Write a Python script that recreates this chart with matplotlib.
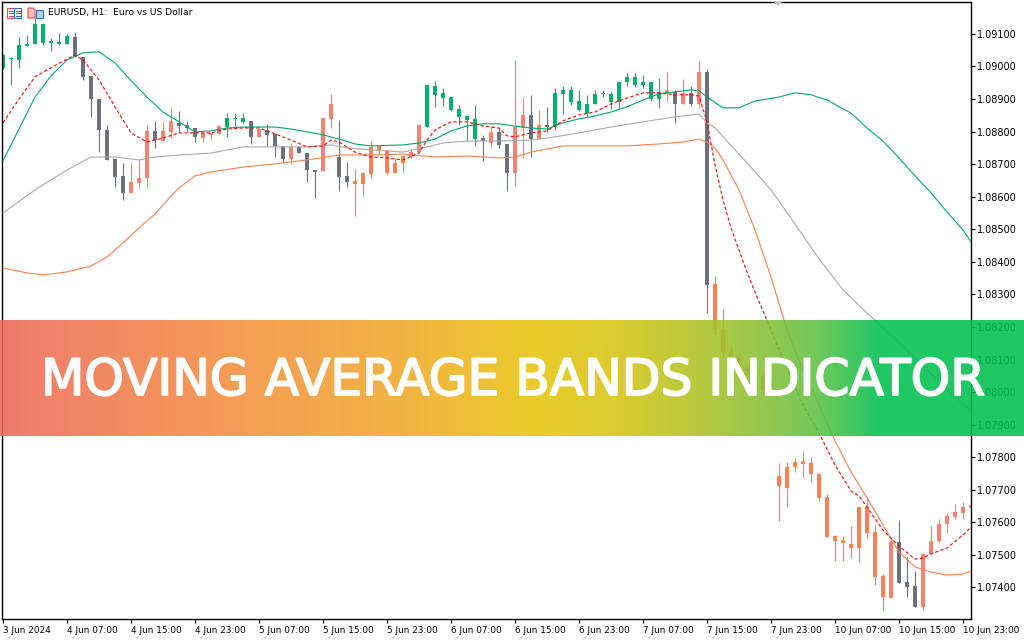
import numpy as np
import matplotlib
matplotlib.use("Agg")
import matplotlib.pyplot as plt
import matplotlib.patheffects as pe
from matplotlib.colors import LinearSegmentedColormap
from matplotlib.patches import Rectangle, Polygon

plt.rcParams['font.family'] = ['DejaVu Sans']

# EURUSD H1 candles, 3 Jun 2024 23:00 -> 11 Jun 00:00 (one entry per bar)
opens = [1.08996, 1.09023, 1.09020, 1.09063, 1.09069, 1.09131, 1.09072, 1.09069, 1.09069, 1.09091,
         1.09029, 1.08971, 1.08900, 1.08805, 1.08716, 1.08664, 1.08612, 1.08642, 1.08658, 1.08802,
         1.08771, 1.08799, 1.08827, 1.08820, 1.08811, 1.08780, 1.08790, 1.08793, 1.08814, 1.08839,
         1.08830, 1.08833, 1.08784, 1.08805, 1.08793, 1.08756, 1.08716, 1.08753, 1.08734, 1.08682,
         1.08679, 1.08839, 1.08722, 1.08664, 1.08648, 1.08639, 1.08670, 1.08756, 1.08744, 1.08673,
         1.08704, 1.08722, 1.08737, 1.08814, 1.08913, 1.08903, 1.08906, 1.08870, 1.08848, 1.08777,
         1.08780, 1.08765, 1.08799, 1.08762, 1.08673, 1.08811, 1.08851, 1.08777, 1.08820, 1.08814,
         1.08916, 1.08928, 1.08894, 1.08857, 1.08885, 1.08916, 1.08891, 1.08891, 1.08953, 1.08968,
         1.08943, 1.08953, 1.08900, 1.08919, 1.08922, 1.08885, 1.08919, 1.08885, 1.08983, 1.08332,
         1.08194, 1.08123, 1.08105, 1.08074, 1.08062, 1.08049, 1.08031, 1.07742, 1.07705, 1.07770,
         1.07779, 1.07782, 1.07748, 1.07678, 1.07558, 1.07546, 1.07533, 1.07521, 1.07647, 1.07570,
         1.07435, 1.07367, 1.07539, 1.07417, 1.07404, 1.07340, 1.07503, 1.07543, 1.07595, 1.07616,
         1.07628, 1.07644]
highs = [1.09038, 1.09029, 1.09091, 1.09097, 1.09149, 1.09134, 1.09088, 1.09103, 1.09100, 1.09106,
         1.09029, 1.08971, 1.08900, 1.08820, 1.08716, 1.08704, 1.08704, 1.08716, 1.08820, 1.08833,
         1.08833, 1.08876, 1.08863, 1.08833, 1.08811, 1.08799, 1.08799, 1.08820, 1.08857, 1.08857,
         1.08857, 1.08833, 1.08808, 1.08824, 1.08793, 1.08756, 1.08765, 1.08753, 1.08734, 1.08682,
         1.08842, 1.08916, 1.08836, 1.08707, 1.08685, 1.08676, 1.08771, 1.08756, 1.08744, 1.08719,
         1.08725, 1.08747, 1.08824, 1.08943, 1.08956, 1.08934, 1.08906, 1.08882, 1.08848, 1.08882,
         1.08790, 1.08817, 1.08811, 1.08762, 1.09020, 1.08906, 1.08913, 1.08867, 1.08876, 1.08934,
         1.08940, 1.08940, 1.08928, 1.08913, 1.08928, 1.08928, 1.08922, 1.08953, 1.08980, 1.08980,
         1.08974, 1.08953, 1.08965, 1.08983, 1.08928, 1.08962, 1.08940, 1.09017, 1.08992, 1.08357,
         1.08255, 1.08145, 1.08123, 1.08083, 1.08068, 1.08062, 1.08043, 1.07782, 1.07785, 1.07797,
         1.07819, 1.07801, 1.07751, 1.07687, 1.07561, 1.07558, 1.07589, 1.07647, 1.07681, 1.07592,
         1.07441, 1.07549, 1.07607, 1.07493, 1.07450, 1.07503, 1.07589, 1.07610, 1.07628, 1.07656,
         1.07662, 1.07668]
lows = [1.08992, 1.08943, 1.08996, 1.09063, 1.09069, 1.09066, 1.09048, 1.09066, 1.09069, 1.09029,
        1.08959, 1.08845, 1.08737, 1.08713, 1.08630, 1.08590, 1.08612, 1.08627, 1.08627, 1.08750,
        1.08771, 1.08780, 1.08799, 1.08799, 1.08768, 1.08768, 1.08774, 1.08793, 1.08784, 1.08811,
        1.08827, 1.08762, 1.08784, 1.08756, 1.08722, 1.08704, 1.08701, 1.08734, 1.08645, 1.08596,
        1.08679, 1.08811, 1.08618, 1.08630, 1.08541, 1.08602, 1.08658, 1.08728, 1.08667, 1.08673,
        1.08676, 1.08719, 1.08737, 1.08814, 1.08876, 1.08879, 1.08863, 1.08820, 1.08771, 1.08756,
        1.08710, 1.08750, 1.08750, 1.08618, 1.08633, 1.08719, 1.08722, 1.08777, 1.08799, 1.08805,
        1.08854, 1.08882, 1.08863, 1.08845, 1.08885, 1.08906, 1.08870, 1.08873, 1.08940, 1.08937,
        1.08934, 1.08894, 1.08873, 1.08891, 1.08827, 1.08885, 1.08879, 1.08873, 1.08243, 1.08175,
        1.08105, 1.08077, 1.08037, 1.08031, 1.08006, 1.07994, 1.08000, 1.07604, 1.07647, 1.07755,
        1.07739, 1.07724, 1.07665, 1.07555, 1.07481, 1.07481, 1.07490, 1.07478, 1.07552, 1.07407,
        1.07327, 1.07367, 1.07413, 1.07371, 1.07340, 1.07330, 1.07503, 1.07536, 1.07567, 1.07610,
        1.07610, 1.07638]
closes = [1.09035, 1.09026, 1.09066, 1.09069, 1.09131, 1.09072, 1.09079, 1.09075, 1.09094, 1.09029,
          1.08968, 1.08900, 1.08805, 1.08713, 1.08661, 1.08612, 1.08645, 1.08658, 1.08802, 1.08774,
          1.08802, 1.08833, 1.08817, 1.08811, 1.08784, 1.08796, 1.08796, 1.08817, 1.08842, 1.08842,
          1.08842, 1.08784, 1.08808, 1.08790, 1.08756, 1.08716, 1.08753, 1.08734, 1.08682, 1.08676,
          1.08842, 1.08885, 1.08661, 1.08645, 1.08639, 1.08673, 1.08753, 1.08744, 1.08673, 1.08704,
          1.08725, 1.08737, 1.08820, 1.08943, 1.08940, 1.08919, 1.08867, 1.08845, 1.08836, 1.08839,
          1.08771, 1.08799, 1.08759, 1.08673, 1.08814, 1.08851, 1.08777, 1.08820, 1.08814, 1.08919,
          1.08928, 1.08891, 1.08867, 1.08885, 1.08916, 1.08919, 1.08916, 1.08953, 1.08968, 1.08943,
          1.08953, 1.08900, 1.08922, 1.08928, 1.08885, 1.08919, 1.08885, 1.08983, 1.08329, 1.08194,
          1.08123, 1.08099, 1.08074, 1.08049, 1.08016, 1.08006, 1.08013, 1.07711, 1.07770, 1.07785,
          1.07788, 1.07748, 1.07675, 1.07555, 1.07543, 1.07536, 1.07521, 1.07647, 1.07567, 1.07432,
          1.07371, 1.07539, 1.07413, 1.07401, 1.07340, 1.07503, 1.07543, 1.07595, 1.07619, 1.07632,
          1.07647, 1.07653]
# g = above upper band, k = bearish, s = bullish, c = below lower band
candle_colors = ("ggggggggg" "kkkkkkk" "sss" "k" "ss" "kkk" "sss" "ggg" "k" "s" "kkk" "s" "kkk"
                 "ss" "kk" "ccccccc" "ss" "ggggggg" "k" "s" "kk" "ss" "k" "s" "k"
                 "gggggggggggggg" "sksksk" "cccccccccccccccccccccc" "s" "kkk" "sssssss")

# moving average bands (bar index, price)
green_x = [0, 2, 4, 6, 8, 10, 12, 14, 16, 18, 20, 22, 24, 26, 28, 30, 34, 36, 38, 40,
           42, 44, 46, 50, 52, 54, 56, 58, 60, 62, 64, 66, 68, 70, 72, 74, 76, 78, 80, 82,
           84, 86, 87, 88, 90, 92, 94, 97, 99, 101, 103, 106, 108, 110, 112, 114, 116, 118, 120, 121]
green_ma = [1.08710, 1.08808, 1.08906, 1.08971, 1.09020, 1.09042, 1.09045, 1.09011, 1.08956, 1.08906,
            1.08860, 1.08830, 1.08799, 1.08802, 1.08811, 1.08814, 1.08814, 1.08808, 1.08799, 1.08790,
            1.08777, 1.08762, 1.08756, 1.08759, 1.08765, 1.08777, 1.08802, 1.08817, 1.08824, 1.08824,
            1.08817, 1.08811, 1.08808, 1.08827, 1.08839, 1.08848, 1.08860, 1.08876, 1.08897, 1.08916,
            1.08922, 1.08928, 1.08925, 1.08906, 1.08873, 1.08873, 1.08894, 1.08906, 1.08919, 1.08913,
            1.08897, 1.08857, 1.08811, 1.08771, 1.08719, 1.08664, 1.08612, 1.08553, 1.08498, 1.08461]

red_x = [0, 2, 4, 6, 8, 9, 10, 12, 14, 16, 18, 20, 22, 24, 26, 28, 30, 32, 34, 36,
         38, 40, 41, 42, 44, 46, 48, 50, 52, 53, 54, 56, 58, 60, 62, 63, 64, 66, 68, 70,
         72, 74, 76, 78, 80, 82, 84, 86, 87, 88, 89, 90, 91, 92, 93, 94, 96, 98, 100, 102,
         104, 106, 107, 108, 110, 112, 114, 115, 116, 118, 120, 121]
red_ma = [1.08827, 1.08900, 1.08968, 1.08996, 1.09023, 1.09035, 1.09020, 1.08959, 1.08876, 1.08796,
          1.08768, 1.08780, 1.08796, 1.08796, 1.08796, 1.08808, 1.08811, 1.08811, 1.08793, 1.08774,
          1.08753, 1.08756, 1.08774, 1.08768, 1.08737, 1.08722, 1.08719, 1.08713, 1.08734, 1.08774,
          1.08805, 1.08830, 1.08830, 1.08817, 1.08811, 1.08787, 1.08784, 1.08796, 1.08802, 1.08833,
          1.08851, 1.08860, 1.08885, 1.08903, 1.08919, 1.08919, 1.08913, 1.08913, 1.08909, 1.08830,
          1.08698, 1.08590, 1.08504, 1.08436, 1.08369, 1.08307, 1.08191, 1.08068, 1.07960, 1.07874,
          1.07776, 1.07696, 1.07681, 1.07647, 1.07576, 1.07527, 1.07487, 1.07490, 1.07503, 1.07521,
          1.07561, 1.07585]

grey_x = [0, 4, 8, 11, 14, 17, 19, 22, 26, 30, 34, 38, 41, 43, 46, 50, 53, 55, 58, 62,
          66, 68, 72, 76, 80, 84, 87, 88, 89, 90, 93, 96, 99, 102, 105, 108, 111, 114, 118, 121]
grey_ma = [1.08550, 1.08621, 1.08682, 1.08722, 1.08722, 1.08713, 1.08722, 1.08728, 1.08734, 1.08753,
           1.08753, 1.08753, 1.08759, 1.08750, 1.08744, 1.08737, 1.08753, 1.08765, 1.08771, 1.08771,
           1.08774, 1.08780, 1.08796, 1.08814, 1.08830, 1.08845, 1.08854, 1.08827, 1.08811, 1.08784,
           1.08704, 1.08621, 1.08516, 1.08409, 1.08314, 1.08243, 1.08175, 1.08105, 1.08009, 1.07942]

orange_x = [0, 3, 5, 8, 11, 13, 15, 17, 19, 21, 22, 24, 26, 30, 34, 38, 42, 46, 50, 54,
            58, 62, 64, 66, 70, 74, 78, 82, 85, 87, 88, 89, 90, 92, 94, 96, 98, 100, 102, 104,
            106, 108, 110, 112, 114, 116, 118, 120, 121]
orange_ma = [1.08381, 1.08366, 1.08360, 1.08369, 1.08387, 1.08415, 1.08458, 1.08504, 1.08547, 1.08602,
             1.08627, 1.08664, 1.08676, 1.08691, 1.08701, 1.08713, 1.08728, 1.08728, 1.08731, 1.08722,
             1.08725, 1.08719, 1.08722, 1.08737, 1.08756, 1.08756, 1.08756, 1.08762, 1.08768, 1.08777,
             1.08768, 1.08750, 1.08713, 1.08621, 1.08498, 1.08353, 1.08191, 1.08068, 1.07960, 1.07850,
             1.07755, 1.07675, 1.07592, 1.07509, 1.07463, 1.07447, 1.07438, 1.07441, 1.07450]

date_labels = ["3 Jun 2024", "4 Jun 07:00", "4 Jun 15:00", "4 Jun 23:00", "5 Jun 07:00",
               "5 Jun 15:00", "5 Jun 23:00", "6 Jun 07:00", "6 Jun 15:00", "6 Jun 23:00",
               "7 Jun 07:00", "7 Jun 15:00", "7 Jun 23:00", "10 Jun 07:00", "10 Jun 15:00",
               "10 Jun 23:00"]
price_ticks = [1.074, 1.075, 1.076, 1.077, 1.078, 1.079, 1.080, 1.081, 1.082,
               1.083, 1.084, 1.085, 1.086, 1.087, 1.088, 1.089, 1.090, 1.091]

W, H = 1024, 640
fig = plt.figure(figsize=(W / 100, H / 100), dpi=100)
fig.patch.set_facecolor('white')

# main chart: plot area from x=2..971 px, y=2..619 px
ax = fig.add_axes([2 / W, 21 / H, 969 / W, 617 / H])
ax.set_xlim(-0.125, 121)
ax.set_ylim(1.07303, 1.09198)

col_map = {'g': '#00b06b', 'k': '#6b727c', 's': '#fa8072', 'c': '#ff7f50'}
cols = [col_map[c] for c in candle_colors]
idx = np.arange(len(opens))
o = np.array(opens)
c = np.array(closes)
ax.vlines(idx, lows, highs, colors=cols, lw=0.8, zorder=2)
body_h = np.maximum(np.abs(c - o), 0.00003)
ax.bar(idx, body_h, bottom=np.minimum(o, c), width=0.62, color=cols, linewidth=0, zorder=2)

ax.plot(grey_x, grey_ma, color='#a9a9a9', lw=0.8, zorder=3)
ax.plot(orange_x, orange_ma, color='#ff7f50', lw=0.8, zorder=3)
ax.plot(green_x, green_ma, color='#00a870', lw=0.8, zorder=3)
ax.plot(red_x, red_ma, color='#ff0000', lw=0.8, ls=(0, (3, 2)), zorder=4)

ax.yaxis.tick_right()
ax.set_yticks(price_ticks)
ax.set_yticklabels([f"{v:.5f}" for v in price_ticks])
ax.tick_params(axis='y', direction='out', length=3, width=0.8, labelsize=7, pad=1.5)
ax.set_xticks(range(0, 121, 8))
ax.set_xticklabels(date_labels)
ax.tick_params(axis='x', direction='out', length=3, width=0.8, labelsize=6.4, pad=2)
for lab in ax.get_xticklabels():
    lab.set_horizontalalignment('left')
for sp in ax.spines.values():
    sp.set_color('black')
    sp.set_linewidth(1)

# overlay in pixel coordinates: header, shift marker, banner
ov = fig.add_axes([0, 0, 1, 1], zorder=10)
ov.patch.set_alpha(0)

ov.add_patch(Rectangle((7, 8), 7, 10, facecolor='white', edgecolor='#e84a4a', lw=0.8))
for yy in (10.5, 13, 15.5):
    ov.plot([8.5, 12.5], [yy, yy], color='#e84a4a', lw=0.8)
ov.add_patch(Rectangle((14, 8), 7, 10, facecolor='white', edgecolor='#2f6fc4', lw=0.8))
for yy in (10.5, 13, 15.5):
    ov.plot([15.5, 19.5], [yy, yy], color='#2f6fc4', lw=0.8)
ov.add_patch(Polygon([(28, 8), (33, 8), (35, 10), (35, 18), (28, 18)], closed=True,
                     facecolor='#f9c4c0', edgecolor='#e84a4a', lw=0.8))
ov.add_patch(Rectangle((36, 10), 7, 8, facecolor='#a9d8f2', edgecolor='#2f6fc4', lw=0.8))
ov.text(48, 13, "EURUSD, H1:  Euro vs US Dollar", fontsize=6.6, ha='left', va='center')

ov.add_patch(Polygon([(774, 2), (782, 2), (778, 6)], closed=True, facecolor='#c0c0c0',
                     edgecolor='none'))

banner_cmap = LinearSegmentedColormap.from_list('banner', [
    (0.0, '#ec685a'), (0.2, '#f48a42'), (0.4, '#f0aa28'), (0.52, '#e8c40c'),
    (0.6, '#d8c412'), (0.67, '#b6c220'), (0.74, '#8cc034'), (0.8, '#5ec044'),
    (0.86, '#00c050'), (1.0, '#00c050')])
grad = np.linspace(0, 1, 512).reshape(1, -1)
ov.imshow(grad, extent=(0, W, 436, 320), aspect='auto', cmap=banner_cmap, alpha=0.88,
          interpolation='bilinear')
ov.text(512.5, 395, "MOVING AVERAGE BANDS INDICATOR", fontsize=36.2, color='white',
        ha='center', va='baseline',
        path_effects=[pe.withStroke(linewidth=1.3, foreground='white')])

ov.set_xlim(0, W)
ov.set_ylim(H, 0)
ov.axis('off')

fig.savefig('out.png', dpi=100)
